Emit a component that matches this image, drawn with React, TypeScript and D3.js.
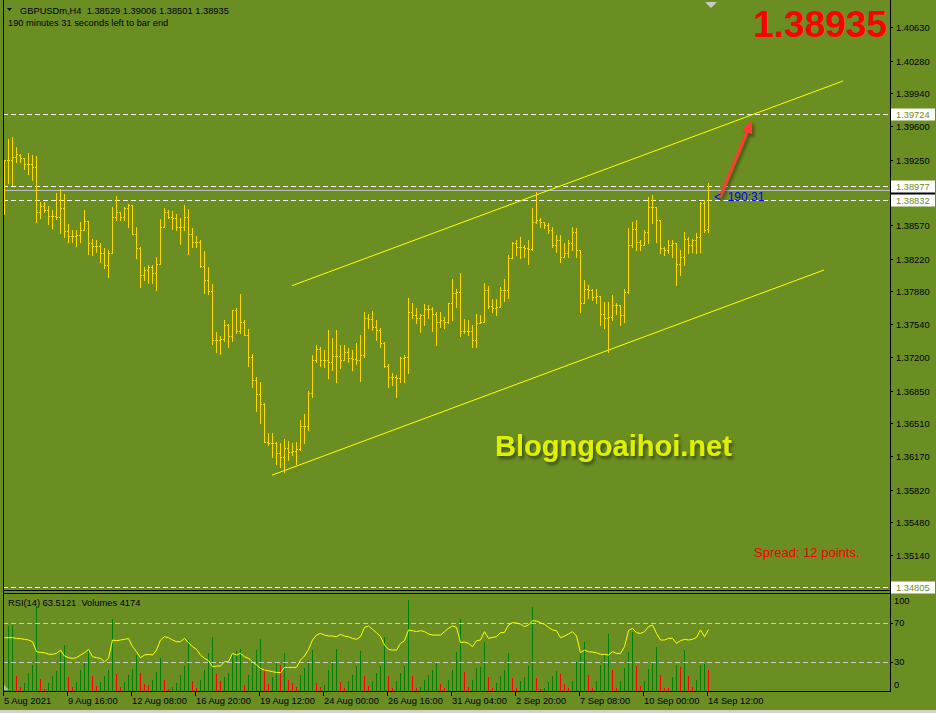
import React from "react";
import * as d3 from "d3";

// ---------- DATA ----------
const opens = [
  1.3925, 1.3925, 1.3925, 1.3928, 1.393, 1.3927, 1.3921, 1.3921, 1.3917, 1.3871,
  1.3877, 1.3873, 1.3866, 1.3866, 1.3865, 1.3875, 1.3851, 1.3846, 1.3846, 1.3847,
  1.3852, 1.3861, 1.3838, 1.3835, 1.3835, 1.3828, 1.3816, 1.3828, 1.3865, 1.3871,
  1.3865, 1.3875, 1.3878, 1.3848, 1.3833, 1.3805, 1.381, 1.3813, 1.3807, 1.3817,
  1.3855, 1.3871, 1.3865, 1.3864, 1.3855, 1.3855, 1.3865, 1.3848, 1.3839, 1.3839,
  1.3814, 1.38, 1.3788, 1.3737, 1.3738, 1.3739, 1.3753, 1.3742, 1.3769, 1.3747,
  1.3756, 1.3743, 1.372, 1.3696, 1.3681, 1.3671, 1.3631, 1.363, 1.363, 1.362,
  1.3616, 1.3625, 1.3621, 1.3622, 1.3624, 1.3648, 1.3648, 1.3682, 1.3717, 1.3728,
  1.3717, 1.3717, 1.3715, 1.3721, 1.3721, 1.3717, 1.3725, 1.3719, 1.3718, 1.3717,
  1.3722, 1.376, 1.3759, 1.3751, 1.3748, 1.3734, 1.371, 1.3699, 1.3699, 1.3698,
  1.3719, 1.372, 1.3767, 1.3763, 1.376, 1.3763, 1.377, 1.377, 1.3765, 1.3756,
  1.3758, 1.3756, 1.3776, 1.3786, 1.3787, 1.3747, 1.3747, 1.3747, 1.3737, 1.3755,
  1.3756, 1.3789, 1.3773, 1.3771, 1.3772, 1.3789, 1.379, 1.3823, 1.3838, 1.3834,
  1.3834, 1.3833, 1.3832, 1.386, 1.3862, 1.386, 1.3857, 1.3852, 1.3836, 1.3841,
  1.3824, 1.3828, 1.3838, 1.385, 1.3831, 1.3776, 1.3791, 1.3789, 1.3782, 1.3783,
  1.3765, 1.376, 1.3761, 1.3774, 1.3774, 1.3763, 1.3787, 1.3836, 1.3853, 1.3839,
  1.3836, 1.385, 1.3876, 1.3876, 1.3862, 1.3833, 1.3831, 1.3836, 1.3838, 1.3817,
  1.3824, 1.3843, 1.3836, 1.3841, 1.3845, 1.388, 1.38529,
];
const highs = [
  1.3925, 1.3946, 1.3949, 1.3938, 1.3931, 1.3927, 1.3932, 1.393, 1.3929, 1.3881,
  1.3881, 1.3877, 1.3873, 1.389, 1.3894, 1.3889, 1.3858, 1.3852, 1.3852, 1.386,
  1.3873, 1.3861, 1.3843, 1.3841, 1.3838, 1.3833, 1.3831, 1.3876, 1.3887, 1.3871,
  1.3876, 1.3879, 1.3878, 1.3855, 1.3834, 1.3813, 1.3815, 1.3815, 1.3824, 1.3863,
  1.3875, 1.3873, 1.3872, 1.3869, 1.3864, 1.3878, 1.3874, 1.3854, 1.3846, 1.3841,
  1.383, 1.3813, 1.3796, 1.3746, 1.3742, 1.3758, 1.3754, 1.3769, 1.3771, 1.3785,
  1.3758, 1.3749, 1.3723, 1.3699, 1.3694, 1.3672, 1.3641, 1.3641, 1.3631, 1.363,
  1.3635, 1.3633, 1.363, 1.3631, 1.3654, 1.3661, 1.3685, 1.3722, 1.3732, 1.373,
  1.3727, 1.3748, 1.374, 1.3748, 1.3732, 1.3732, 1.3729, 1.3727, 1.3734, 1.3743,
  1.3767, 1.3765, 1.3768, 1.3758, 1.375, 1.3735, 1.3713, 1.3703, 1.3701, 1.372,
  1.3722, 1.3781, 1.3776, 1.3771, 1.3765, 1.3775, 1.3774, 1.3772, 1.3767, 1.3767,
  1.3761, 1.3776, 1.3801, 1.3791, 1.3807, 1.3759, 1.3758, 1.3753, 1.3765, 1.3764,
  1.3797, 1.3794, 1.378, 1.378, 1.3793, 1.3801, 1.3826, 1.3839, 1.3841, 1.3845,
  1.3836, 1.3841, 1.3875, 1.3891, 1.3864, 1.386, 1.3859, 1.3855, 1.3847, 1.3847,
  1.3838, 1.3841, 1.3855, 1.3854, 1.3831, 1.38, 1.3795, 1.3791, 1.3791, 1.3783,
  1.3777, 1.3777, 1.3784, 1.3776, 1.3774, 1.3791, 1.3854, 1.386, 1.3862, 1.3841,
  1.3852, 1.3886, 1.3888, 1.3876, 1.3862, 1.3834, 1.3841, 1.3841, 1.3838, 1.3831,
  1.385, 1.3845, 1.3843, 1.3849, 1.3881, 1.3883, 1.39006,
];
const lows = [
  1.3869, 1.3901, 1.3899, 1.3923, 1.3923, 1.3915, 1.391, 1.3904, 1.386, 1.3864,
  1.3871, 1.3858, 1.3854, 1.3863, 1.3849, 1.3845, 1.3839, 1.3839, 1.3835, 1.3839,
  1.3852, 1.3827, 1.3826, 1.3829, 1.3819, 1.3812, 1.3803, 1.3828, 1.3862, 1.3862,
  1.3862, 1.3855, 1.3848, 1.3823, 1.3793, 1.38, 1.3797, 1.3797, 1.379, 1.3817,
  1.3855, 1.3864, 1.3853, 1.3852, 1.3837, 1.3852, 1.3827, 1.3834, 1.3834, 1.3813,
  1.3786, 1.3785, 1.3733, 1.3725, 1.3723, 1.3736, 1.373, 1.3736, 1.3745, 1.3745,
  1.3743, 1.371, 1.3689, 1.3664, 1.3651, 1.3631, 1.3628, 1.3616, 1.3609, 1.3605,
  1.36, 1.3613, 1.3618, 1.3609, 1.3623, 1.363, 1.3644, 1.3678, 1.3715, 1.371,
  1.3709, 1.3698, 1.3706, 1.3694, 1.3708, 1.3717, 1.3715, 1.3706, 1.3713, 1.3695,
  1.372, 1.375, 1.3748, 1.3737, 1.373, 1.3709, 1.3689, 1.3691, 1.3678, 1.3694,
  1.3694, 1.3703, 1.376, 1.3755, 1.3746, 1.3753, 1.376, 1.3747, 1.3732, 1.3751,
  1.375, 1.3755, 1.3758, 1.3772, 1.3742, 1.3745, 1.3743, 1.373, 1.373, 1.3755,
  1.3756, 1.3771, 1.3767, 1.3763, 1.3772, 1.3778, 1.3781, 1.3823, 1.3826, 1.3823,
  1.3824, 1.3817, 1.3831, 1.3859, 1.3855, 1.3854, 1.3849, 1.3834, 1.3829, 1.3819,
  1.3824, 1.3824, 1.3831, 1.3824, 1.3767, 1.3776, 1.3781, 1.3779, 1.3776, 1.3753,
  1.375, 1.3725, 1.3758, 1.3765, 1.3753, 1.3756, 1.3786, 1.3834, 1.3831, 1.3831,
  1.3836, 1.3838, 1.3859, 1.3839, 1.3828, 1.3826, 1.3828, 1.3824, 1.3795, 1.3805,
  1.3815, 1.3828, 1.3829, 1.3828, 1.3829, 1.385, 1.38501,
];
const closes = [
  1.3925, 1.3925, 1.3928, 1.3931, 1.3927, 1.3921, 1.3921, 1.3917, 1.3871, 1.3877,
  1.3873, 1.3866, 1.3866, 1.3865, 1.3875, 1.3851, 1.3846, 1.3846, 1.3847, 1.3852,
  1.3861, 1.3838, 1.3835, 1.3835, 1.3828, 1.3816, 1.3828, 1.3865, 1.3871, 1.3865,
  1.3875, 1.3878, 1.3848, 1.3833, 1.3805, 1.381, 1.3813, 1.3807, 1.3817, 1.3855,
  1.3871, 1.3865, 1.3864, 1.3855, 1.3855, 1.3865, 1.3848, 1.3839, 1.3839, 1.3814,
  1.38, 1.3788, 1.3737, 1.3738, 1.3739, 1.3753, 1.3742, 1.3769, 1.3747, 1.3756,
  1.3743, 1.372, 1.3696, 1.3681, 1.3671, 1.3631, 1.363, 1.363, 1.362, 1.3616,
  1.3625, 1.3621, 1.3622, 1.3624, 1.3648, 1.3648, 1.3682, 1.3717, 1.3728, 1.3717,
  1.3717, 1.3715, 1.3721, 1.3721, 1.3717, 1.3725, 1.3719, 1.3718, 1.3717, 1.3722,
  1.376, 1.3759, 1.3751, 1.3748, 1.3734, 1.371, 1.3699, 1.3699, 1.3698, 1.3719,
  1.372, 1.3767, 1.3763, 1.376, 1.3763, 1.377, 1.377, 1.3765, 1.3756, 1.3758,
  1.3756, 1.3776, 1.3786, 1.3787, 1.3747, 1.3747, 1.3747, 1.3737, 1.3755, 1.3756,
  1.3789, 1.3773, 1.3771, 1.3772, 1.3789, 1.379, 1.3823, 1.3838, 1.3834, 1.3834,
  1.3833, 1.3832, 1.386, 1.3862, 1.386, 1.3857, 1.3852, 1.3836, 1.3841, 1.3824,
  1.3828, 1.3838, 1.385, 1.3831, 1.3776, 1.3791, 1.3789, 1.3782, 1.3783, 1.3765,
  1.376, 1.3761, 1.3774, 1.3774, 1.3763, 1.3787, 1.3836, 1.3853, 1.3839, 1.3836,
  1.385, 1.3876, 1.3876, 1.3862, 1.3833, 1.3831, 1.3836, 1.3838, 1.3817, 1.3824,
  1.3843, 1.3836, 1.3841, 1.3845, 1.388, 1.3852, 1.38935,
];
const volumes = [
  0, 12920, 13120, 2980, 800, 1590, 3580, 5170, 16900, 2390,
  400, 1590, 2980, 3980, 7550, 9150, 2780, 800, 1790, 4170,
  5570, 8350, 2980, 990, 1790, 2980, 4170, 14310, 3380, 800,
  1790, 3180, 4370, 7160, 3580, 1390, 1190, 2190, 3780, 6560,
  2190, 400, 800, 1590, 3180, 4970, 10140, 1990, 600, 2190,
  4170, 7550, 10740, 3380, 1990, 2780, 3580, 7550, 7950, 8350,
  1190, 3180, 6160, 8150, 10340, 4370, 1390, 2780, 5770, 5170,
  7550, 2190, 1590, 800, 3180, 4570, 5960, 8150, 1590, 800,
  1190, 4170, 5960, 8350, 1790, 600, 1990, 3180, 4970, 7950,
  2980, 990, 1990, 3580, 4970, 10740, 2980, 600, 1990, 3580,
  4970, 18090, 2980, 600, 800, 2190, 3180, 4170, 5770, 1390,
  600, 2190, 4170, 7750, 14310, 3780, 800, 2190, 4570, 4770,
  9740, 2780, 600, 1590, 2980, 4170, 7550, 2580, 600, 1990,
  2780, 4970, 16700, 2580, 400, 600, 1790, 2980, 3980, 3380,
  1390, 600, 1990, 5770, 8150, 9740, 3180, 600, 1990, 5170,
  7160, 11330, 4170, 600, 1990, 4570, 7750, 11730, 4970, 990,
  1990, 4370, 5770, 8750, 3180, 600, 590, 2780, 5170, 4770,
  8150, 2980, 800, 2190, 5170, 5370, 4174,
];
const rsiValues = [
  55.2, 55.2, 55.2, 54.5, 54.2, 53.5, 52.8, 51.1, 40.8, 40.1,
  39.8, 38.4, 38.1, 39.1, 42.5, 36.4, 34.7, 34.0, 34.7, 37.4,
  39.8, 43.2, 35.7, 34.7, 34.0, 30.6, 34.0, 52.8, 52.1, 52.8,
  53.5, 54.5, 46.0, 40.8, 34.7, 37.4, 38.1, 37.4, 42.5, 52.8,
  56.2, 55.2, 52.8, 51.1, 51.1, 54.5, 50.1, 46.0, 43.2, 37.4,
  34.0, 31.6, 25.4, 26.1, 26.1, 30.6, 30.6, 39.1, 37.4, 39.1,
  35.7, 34.0, 30.6, 27.2, 23.7, 22.0, 21.3, 20.3, 19.6, 19.3,
  24.7, 24.7, 24.7, 24.7, 32.3, 36.4, 43.2, 52.8, 57.9, 59.6,
  57.9, 56.9, 56.9, 56.2, 58.6, 56.9, 56.2, 54.5, 53.5, 56.2,
  65.8, 67.2, 63.7, 60.3, 56.2, 47.7, 43.2, 42.5, 42.5, 49.4,
  52.1, 63.1, 62.4, 61.4, 62.4, 61.4, 59.0, 57.9, 57.9, 57.9,
  61.4, 64.8, 67.2, 65.8, 50.1, 50.8, 49.4, 46.0, 52.1, 52.8,
  61.4, 54.5, 55.5, 56.2, 60.3, 60.7, 68.2, 70.6, 70.2, 69.2,
  66.5, 68.2, 72.6, 72.3, 70.6, 68.9, 65.8, 63.1, 62.4, 55.2,
  56.9, 59.0, 61.4, 56.9, 39.8, 42.5, 40.8, 40.5, 39.8, 38.1,
  38.1, 37.4, 40.8, 39.1, 39.1, 46.0, 62.4, 64.8, 60.3, 59.6,
  61.4, 66.5, 68.2, 59.6, 52.8, 52.8, 54.5, 54.5, 49.4, 52.1,
  53.5, 52.8, 53.5, 55.5, 63.1, 56.2, 63.5,
];
const priceTicks = [
  1.4063, 1.4028, 1.3994, 1.396, 1.3925, 1.3891, 1.3857, 1.3822, 1.3788,
  1.3754, 1.372, 1.3685, 1.3651, 1.3617, 1.3582, 1.3548, 1.3514,
];
const timeLabelBars = [0, 16, 32, 48, 64, 80, 96, 112, 128, 144, 160, 176];
const timeLabels = [
  "5 Aug 2021", "9 Aug 16:00", "12 Aug 08:00", "16 Aug 20:00", "19 Aug 12:00",
  "24 Aug 00:00", "26 Aug 16:00", "31 Aug 04:00", "2 Sep 20:00", "7 Sep 08:00",
  "10 Sep 00:00", "14 Sep 12:00",
];
const levelPrices = [1.39724, 1.38977, 1.38832, 1.34805];
const bidPrice = 1.38935;
const rsiLevels = [70, 30];
const rsiAxisLabels = [100, 70, 30, 0];
// trend channel anchors: [bar index, price]
const upperChannel: [number, number][] = [[72, 1.3794], [209.75, 1.40068]];
const lowerChannel: [number, number][] = [[67, 1.3597], [205, 1.38103]];
const arrowAnchors: [number, number][] = [[179, 1.38862], [187, 1.39662]];

// ---------- LAYOUT ----------
const W = 936;
const H = 713;
const LEFT = 3;
const AXIS_X = 890;
const MAIN_BOTTOM = 590;
const SUB_BOTTOM = 691;
const BG = "#6B8E23";
const FONT = "'Liberation Sans', Arial, sans-serif";
const FS = 9.3;

export default function App() {
  const n = closes.length;
  const x = d3.scaleLinear().domain([0, n - 1]).range([4, 708]);
  const y = d3.scaleLinear().domain([1.34776, 1.4091]).range([MAIN_BOTTOM, 0]);
  const rsiY = d3.scaleLinear().domain([0, 100]).range([691.5, 594]);
  const volY = d3
    .scaleLinear()
    .domain([0, (d3.max(volumes) as number) * 1.044])
    .range([SUB_BOTTOM, 596]);

  const rsiPath = d3
    .line<number>()
    .x((_, i) => x(i) + 0.5)
    .y((d) => rsiY(d))(rsiValues) as string;

  const px = (i: number) => Math.round(x(i));
  const py = (p: number) => Math.round(y(p));

  // tick labels hidden behind the level / bid labels are not drawn
  const labelYs = [...levelPrices, bidPrice].map((p) => y(p));
  const visibleTicks = priceTicks.filter((t) => labelYs.every((ly) => Math.abs(y(t) - ly) > 9));

  const bars = closes.map((c, i) => {
    const x0 = px(i);
    const yh = py(highs[i]);
    const yl = py(lows[i]);
    return (
      <g key={i}>
        <rect x={x0} y={yh} width={1} height={Math.max(1, yl - yh + 1)} fill="#FFD700" />
        <rect x={x0 - 1} y={py(opens[i])} width={1} height={1} fill="#FFD700" />
        <rect x={x0 + 1} y={py(c)} width={1} height={1} fill="#FFD700" />
      </g>
    );
  });

  const volBars = volumes.map((v, i) => {
    if (v <= 0) return null;
    const up = i === 0 || v > volumes[i - 1];
    const top = Math.round(volY(v));
    return (
      <rect
        key={i}
        x={px(i)}
        y={top}
        width={1}
        height={SUB_BOTTOM - top}
        fill={up ? "#008000" : "#FF0000"}
      />
    );
  });

  const line2 = (pts: [number, number][]) =>
    d3
      .line<[number, number]>()
      .x((d) => x(d[0]))
      .y((d) => y(d[1]))(pts) as string;

  const [aTail, aHead] = arrowAnchors;
  const ax1 = x(aTail[0]);
  const ay1 = y(aTail[1]);
  const ax2 = x(aHead[0]);
  const ay2 = y(aHead[1]);
  const ang = Math.atan2(ay2 - ay1, ax2 - ax1);
  const headLen = 13;
  const headW = 5.5;
  const bx = ax2 - headLen * Math.cos(ang);
  const by = ay2 - headLen * Math.sin(ang);
  const arrowHead = [
    [ax2, ay2],
    [bx + headW * Math.sin(ang), by - headW * Math.cos(ang)],
    [bx - headW * Math.sin(ang), by + headW * Math.cos(ang)],
  ]
    .map((p) => p.join(","))
    .join(" ");

  return (
    <svg
      width={W}
      height={H}
      style={{ position: "absolute", left: 0, top: 0, display: "block" }}
      fontFamily={FONT}
    >
      <defs>
        <filter id="shadow" x="-10%" y="-10%" width="130%" height="140%">
          <feDropShadow dx="2" dy="3" stdDeviation="1.6" floodColor="#2f3d08" floodOpacity="0.75" />
        </filter>
        <clipPath id="mainClip">
          <rect x={LEFT + 1} y={0} width={AXIS_X - LEFT - 1} height={MAIN_BOTTOM} />
        </clipPath>
      </defs>
      <rect x={0} y={0} width={W} height={H} fill={BG} />

      {/* ---------- main pane ---------- */}
      <g clipPath="url(#mainClip)">
        {levelPrices.map((p, i) => (
          <line
            key={i}
            x1={LEFT}
            x2={AXIS_X}
            y1={py(p) + 0.5}
            y2={py(p) + 0.5}
            stroke="#FFFFFF"
            strokeDasharray="5,3"
          />
        ))}
        <line x1={LEFT} x2={AXIS_X} y1={py(bidPrice) + 0.5} y2={py(bidPrice) + 0.5} stroke="#C0C0C0" />
        <path d={line2(upperChannel)} stroke="#FFFF00" fill="none" strokeWidth={1} />
        <path d={line2(lowerChannel)} stroke="#FFFF00" fill="none" strokeWidth={1} />
        {bars}
      </g>

      {/* header texts */}
      <polygon points="7,8 12,8 9.5,11" fill="#000" />
      <text x={20} y={13.5} fontSize={FS} fill="#000" style={{ whiteSpace: "pre" }}>
        {`GBPUSDm,H4  ${opens[n - 1].toFixed(5)} ${highs[n - 1].toFixed(5)} ${lows[n - 1].toFixed(5)} ${closes[n - 1].toFixed(5)}`}
      </text>
      <text x={8} y={26} fontSize={FS} fill="#000">
        190 minutes 31 seconds left to bar end
      </text>
      <polygon points="705,2 717,2 711,8" fill="#C8C8C8" />
      <text x={887} y={37} fontSize={37} fontWeight="bold" fill="#FF0000" textAnchor="end">
        {closes[n - 1].toFixed(5)}
      </text>

      {/* watermark & annotations */}
      <text x={495} y={456} fontSize={29} fontWeight="bold" fill="#E1F000" filter="url(#shadow)">
        Blogngoaihoi.net
      </text>
      <text x={754} y={557} fontSize={13} fill="#F00000">
        Spread: 12 points.
      </text>
      <g filter="url(#shadow)">
        <line x1={ax1} y1={ay1} x2={bx} y2={by} stroke="#FF3B30" strokeWidth={3} />
        <polygon points={arrowHead} fill="#FF3B30" />
      </g>
      <text x={714} y={201} fontSize={12} fill="#0000FF" style={{ whiteSpace: "pre" }}>
        {"<  190:31"}
      </text>

      {/* price axis */}
      {visibleTicks.map((t, i) => (
        <g key={i}>
          <line x1={AXIS_X} x2={AXIS_X + 3} y1={py(t) + 0.5} y2={py(t) + 0.5} stroke="#000" />
          <text x={896} y={py(t) + 0.5} fontSize={FS} fill="#000" dominantBaseline="central">
            {t.toFixed(5)}
          </text>
        </g>
      ))}
      {/* bid price marker (mostly covered by the level labels) */}
      <rect x={891} y={py(bidPrice) - 6} width={44} height={12} fill="#000000" />
      {levelPrices.map((p, i) => (
        <g key={i}>
          <rect x={891} y={py(p) - 5.5} width={44} height={12} fill="#FFFFFF" />
          <text x={896} y={py(p) + 0.5} fontSize={FS} fill={BG} dominantBaseline="central">
            {p.toFixed(5)}
          </text>
        </g>
      ))}

      {/* pane separators */}
      <line x1={LEFT} x2={AXIS_X + 1} y1={MAIN_BOTTOM + 0.5} y2={MAIN_BOTTOM + 0.5} stroke="#000" />
      <line x1={LEFT} x2={AXIS_X + 1} y1={593.5} y2={593.5} stroke="#000" />

      {/* ---------- RSI / volume pane ---------- */}
      {volBars}
      {rsiLevels.map((l) => (
        <line
          key={l}
          x1={LEFT}
          x2={AXIS_X}
          y1={Math.round(rsiY(l)) + 0.5}
          y2={Math.round(rsiY(l)) + 0.5}
          stroke="#C8C8C8"
          strokeDasharray="5,3"
        />
      ))}
      <path d={rsiPath} fill="none" stroke="#FFFF00" strokeWidth={1} />
      <polygon points="4,685 4,690 9,690" fill="#B8B8B8" />
      <text x={8} y={606} fontSize={FS} fill="#000" style={{ whiteSpace: "pre" }}>
        {`RSI(14) 63.5121  Volumes ${volumes[n - 1]}`}
      </text>
      {rsiAxisLabels.map((l) => {
        const yy = l === 100 ? rsiY(l) + 7 : l === 0 ? rsiY(l) - 6.5 : rsiY(l);
        return (
          <g key={l}>
            {l !== 100 && l !== 0 && (
              <line x1={AXIS_X} x2={AXIS_X + 3} y1={Math.round(rsiY(l)) + 0.5} y2={Math.round(rsiY(l)) + 0.5} stroke="#000" />
            )}
            <text x={894} y={yy} fontSize={FS} fill="#000" dominantBaseline="central">
              {l}
            </text>
          </g>
        );
      })}

      {/* frame */}
      <line x1={LEFT + 0.5} x2={LEFT + 0.5} y1={0} y2={SUB_BOTTOM + 1} stroke="#000" />
      <line x1={AXIS_X + 0.5} x2={AXIS_X + 0.5} y1={0} y2={SUB_BOTTOM + 1} stroke="#000" />
      <line x1={LEFT} x2={AXIS_X + 1} y1={SUB_BOTTOM + 0.5} y2={SUB_BOTTOM + 0.5} stroke="#000" />

      {/* time axis */}
      {timeLabelBars.map((b, i) => (
        <g key={b}>
          <line x1={px(b) - 0.5} x2={px(b) - 0.5} y1={SUB_BOTTOM + 1} y2={SUB_BOTTOM + 5} stroke="#000" />
          <text x={px(b)} y={703.5} fontSize={FS} fill="#000">
            {timeLabels[i]}
          </text>
        </g>
      ))}
      <rect x={0} y={710} width={W} height={3} fill="#D4D0C8" />
    </svg>
  );
}
